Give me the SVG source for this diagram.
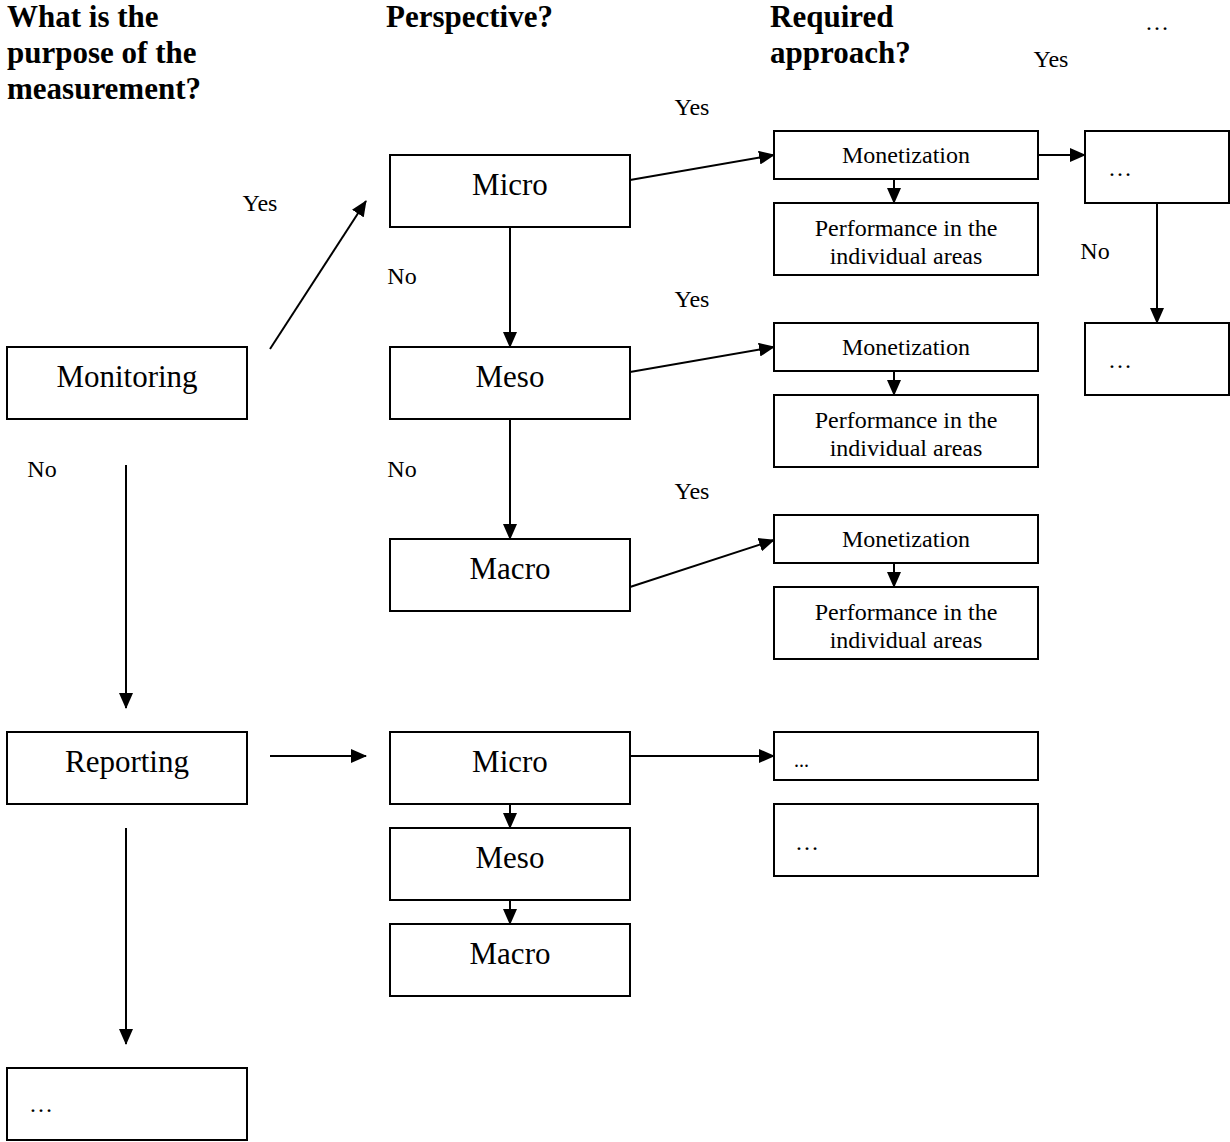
<svg xmlns="http://www.w3.org/2000/svg" width="1230" height="1142" viewBox="0 0 1230 1142">
  <style>
    .box { fill: #fff; stroke: #000; stroke-width: 2; }
    .edge { fill: none; stroke: #000; stroke-width: 2; marker-end: url(#arrow); }
    text { font-family: "Liberation Serif", "Times New Roman", serif; fill: #000; }
    .big { font-size: 31px; text-anchor: middle; }
    .small { font-size: 24px; text-anchor: middle; }
    .lbl { font-size: 24px; text-anchor: middle; }
    .head { font-size: 31px; font-weight: bold; }
    .dots { font-size: 24px; }
  </style>
  <defs>
    <marker id="arrow" viewBox="0 0 16 14" refX="15" refY="7" markerWidth="16" markerHeight="14" markerUnits="userSpaceOnUse" orient="auto">
      <path d="M0,0 L16,7 L0,14 Z" fill="#000"/>
    </marker>
  </defs>
  <rect width="1230" height="1142" fill="#fff"/>

  <!-- column headings -->
  <g id="headings">
    <text class="head" x="7" y="27">What is the</text>
    <text class="head" x="7" y="63">purpose of the</text>
    <text class="head" x="7" y="99">measurement?</text>
    <text class="head" x="386" y="27">Perspective?</text>
    <text class="head" x="770" y="27">Required</text>
    <text class="head" x="770" y="63">approach?</text>
    <text class="dots" x="1145" y="30">…</text>
  </g>

  <!-- connectors -->
  <g id="connectors">
    <path class="edge" d="M270,349 L366,201"/>
    <path class="edge" d="M126,465 L126,708"/>
    <path class="edge" d="M126,828 L126,1044"/>
    <path class="edge" d="M270,756 L366,756"/>
    <path class="edge" d="M510,227 L510,347"/>
    <path class="edge" d="M510,419 L510,539"/>
    <path class="edge" d="M630,180 L774,155"/>
    <path class="edge" d="M630,372 L774,347"/>
    <path class="edge" d="M630,587 L774,540"/>
    <path class="edge" d="M894,179 L894,203"/>
    <path class="edge" d="M894,371 L894,395"/>
    <path class="edge" d="M894,563 L894,587"/>
    <path class="edge" d="M1038,155 L1085,155"/>
    <path class="edge" d="M1157,203 L1157,323"/>
    <path class="edge" d="M630,756 L774,756"/>
    <path class="edge" d="M510,804 L510,828"/>
    <path class="edge" d="M510,900 L510,924"/>
  </g>

  <!-- connector labels -->
  <g id="edge-labels">
    <text class="lbl" x="260" y="211">Yes</text>
    <text class="lbl" x="402" y="284">No</text>
    <text class="lbl" x="402" y="477">No</text>
    <text class="lbl" x="42" y="477">No</text>
    <text class="lbl" x="692" y="115">Yes</text>
    <text class="lbl" x="692" y="307">Yes</text>
    <text class="lbl" x="692" y="499">Yes</text>
    <text class="lbl" x="1051" y="67">Yes</text>
    <text class="lbl" x="1095" y="259">No</text>
  </g>

  <!-- purpose column -->
  <g id="monitoring">
    <rect class="box" x="7" y="347" width="240" height="72"/>
    <text class="big" x="127" y="387">Monitoring</text>
  </g>
  <g id="reporting">
    <rect class="box" x="7" y="732" width="240" height="72"/>
    <text class="big" x="127" y="772">Reporting</text>
  </g>
  <g id="purpose-other">
    <rect class="box" x="7" y="1068" width="240" height="72"/>
    <text class="dots" x="29" y="1112">…</text>
  </g>

  <!-- perspective column (monitoring) -->
  <g id="micro-1">
    <rect class="box" x="390" y="155" width="240" height="72"/>
    <text class="big" x="510" y="195">Micro</text>
  </g>
  <g id="meso-1">
    <rect class="box" x="390" y="347" width="240" height="72"/>
    <text class="big" x="510" y="387">Meso</text>
  </g>
  <g id="macro-1">
    <rect class="box" x="390" y="539" width="240" height="72"/>
    <text class="big" x="510" y="579">Macro</text>
  </g>

  <!-- perspective column (reporting) -->
  <g id="micro-2">
    <rect class="box" x="390" y="732" width="240" height="72"/>
    <text class="big" x="510" y="772">Micro</text>
  </g>
  <g id="meso-2">
    <rect class="box" x="390" y="828" width="240" height="72"/>
    <text class="big" x="510" y="868">Meso</text>
  </g>
  <g id="macro-2">
    <rect class="box" x="390" y="924" width="240" height="72"/>
    <text class="big" x="510" y="964">Macro</text>
  </g>

  <!-- approach column -->
  <g id="monetization-1">
    <rect class="box" x="774" y="131" width="264" height="48"/>
    <text class="small" x="906" y="163">Monetization</text>
  </g>
  <g id="performance-1">
    <rect class="box" x="774" y="203" width="264" height="72"/>
    <text class="small" x="906" y="236">Performance in the</text>
    <text class="small" x="906" y="264">individual areas</text>
  </g>
  <g id="monetization-2">
    <rect class="box" x="774" y="323" width="264" height="48"/>
    <text class="small" x="906" y="355">Monetization</text>
  </g>
  <g id="performance-2">
    <rect class="box" x="774" y="395" width="264" height="72"/>
    <text class="small" x="906" y="428">Performance in the</text>
    <text class="small" x="906" y="456">individual areas</text>
  </g>
  <g id="monetization-3">
    <rect class="box" x="774" y="515" width="264" height="48"/>
    <text class="small" x="906" y="547">Monetization</text>
  </g>
  <g id="performance-3">
    <rect class="box" x="774" y="587" width="264" height="72"/>
    <text class="small" x="906" y="620">Performance in the</text>
    <text class="small" x="906" y="648">individual areas</text>
  </g>
  <g id="approach-r1">
    <rect class="box" x="774" y="732" width="264" height="48"/>
    <text x="794" y="767" style="font-size:20px">...</text>
  </g>
  <g id="approach-r2">
    <rect class="box" x="774" y="804" width="264" height="72"/>
    <text class="dots" x="795" y="850">…</text>
  </g>

  <!-- further steps -->
  <g id="next-1">
    <rect class="box" x="1085" y="131" width="144" height="72"/>
    <text class="dots" x="1108" y="176">…</text>
  </g>
  <g id="next-2">
    <rect class="box" x="1085" y="323" width="144" height="72"/>
    <text class="dots" x="1108" y="368">…</text>
  </g>
</svg>
